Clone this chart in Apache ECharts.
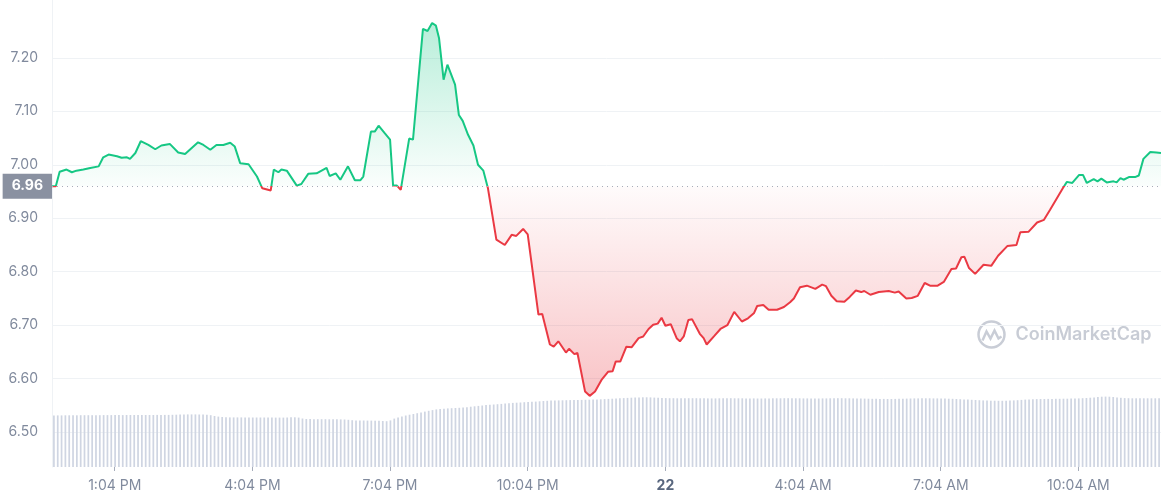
<!DOCTYPE html>
<html><head><meta charset="utf-8">
<script src="https://cdn.jsdelivr.net/npm/echarts@6/dist/echarts.min.js"></script>
<style>html,body{margin:0;padding:0;background:#fff}#c{width:1161px;height:500px}</style>
</head><body><div id="c"></div>
<script>
// minutes since 11:42 AM (day 21)
const times = [0,5,10,19,26,32,41,50,61,67,74,85,91,98,102,109,116,126,135,143,154,165,174,191,198,207,215,224,233,239,246,257,268,275,286,290,296,300,307,320,326,335,346,359,363,371,377,387,396,403,407,417,422,427,435,442,446,451,456,467,472,485,491,497,502,506,512,517,527,532,537,544,551,557,564,570,581,592,601,607,616,622,636,641,651,656,662,672,676,683,687,697,703,710,719,727,733,737,743,751,758,767,773,780,786,792,797,802,809,817,821,826,832,837,847,852,856,866,874,883,892,902,910,918,922,930,937,948,957,965,970,978,987,998,1007,1012,1019,1026,1036,1043,1051,1058,1062,1070,1081,1094,1102,1107,1117,1124,1132,1141,1148,1158,1166,1176,1182,1189,1193,1199,1207,1218,1228,1237,1249,1261,1266,1277,1288,1297,1305,1322,1327,1334,1343,1348,1353,1362,1367,1372,1379,1388,1392,1397,1401,1408,1416,1421,1427,1436,1444,1450];
const prices = [6.960,6.960,6.987,6.991,6.986,6.989,6.991,6.994,6.997,7.014,
7.019,7.016,7.013,7.014,7.011,7.022,7.044,7.037,7.029,7.036,
7.039,7.023,7.020,7.042,7.037,7.028,7.037,7.037,7.041,7.034,
7.003,7.001,6.978,6.956,6.952,6.991,6.986,6.991,6.989,6.961,
6.964,6.983,6.984,6.994,6.979,6.984,6.972,6.997,6.971,6.971,
6.978,7.062,7.062,7.073,7.059,7.047,6.961,6.961,6.953,7.049,
7.047,7.254,7.250,7.265,7.260,7.237,7.159,7.187,7.150,7.093,
7.082,7.056,7.036,7.000,6.989,6.956,6.860,6.850,6.869,6.867,
6.880,6.870,6.720,6.721,6.664,6.660,6.670,6.649,6.656,6.646,
6.648,6.576,6.568,6.576,6.599,6.613,6.614,6.632,6.632,6.660,
6.659,6.676,6.679,6.693,6.701,6.703,6.714,6.699,6.702,6.675,
6.670,6.679,6.710,6.711,6.684,6.676,6.664,6.680,6.693,6.700,
6.725,6.707,6.713,6.723,6.736,6.738,6.729,6.729,6.734,6.743,
6.750,6.771,6.774,6.768,6.776,6.773,6.755,6.745,6.744,6.753,
6.765,6.762,6.764,6.757,6.762,6.764,6.761,6.763,6.750,6.751,
6.755,6.779,6.774,6.774,6.781,6.805,6.806,6.827,6.828,6.807,
6.796,6.813,6.811,6.830,6.848,6.850,6.874,6.875,6.892,6.897,
6.916,6.957,6.968,6.966,6.981,6.981,6.966,6.973,6.969,6.974,
6.967,6.969,6.967,6.975,6.972,6.977,6.977,6.980,7.011,7.024,
7.023,7.022];
const baseline = 6.96;
const volumes = [51.4,51.6,51.6,51.7,51.7,51.7,51.7,51.8,51.8,51.8,
51.8,51.8,51.8,51.9,51.9,51.9,51.9,51.9,51.9,52.0,
52.0,52.0,52.0,52.0,52.0,52.0,52.0,52.1,52.1,52.1,
52.1,52.2,52.3,52.4,52.6,52.6,52.6,52.6,52.5,52.4,
52.2,51.8,51.0,50.4,50.0,49.8,49.6,49.6,49.6,49.6,
49.6,49.6,49.5,49.5,49.5,49.5,49.5,49.5,49.4,49.4,
49.4,49.5,49.7,49.7,49.4,48.5,48.0,47.9,47.8,47.8,
47.8,47.8,47.7,47.7,47.7,47.6,47.5,47.2,46.8,46.6,
46.5,46.5,46.4,46.4,46.3,46.2,46.0,45.8,46.6,48.4,
49.6,50.6,51.5,52.3,53.0,53.8,54.6,55.4,56.2,56.9,
57.6,58.0,58.3,58.6,58.8,59.0,59.2,59.5,59.8,60.3,
60.7,61.1,61.5,61.9,62.2,62.5,62.8,63.1,63.5,63.8,
64.1,64.3,64.5,64.8,65.0,65.2,65.4,65.7,66.0,66.2,
66.4,66.5,66.6,66.7,66.8,66.9,67.0,67.0,67.1,67.2,
67.3,67.4,67.5,67.7,67.9,68.1,68.3,68.5,68.7,68.9,
69.1,69.3,69.5,69.6,69.7,69.7,69.6,69.4,69.2,69.0,
68.9,68.8,68.8,68.7,68.7,68.7,68.8,68.8,68.8,68.7,
68.7,68.6,68.6,68.6,68.7,68.7,68.8,68.8,68.7,68.7,
68.7,68.6,68.6,68.6,68.5,68.5,68.6,68.6,68.7,68.7,
68.7,68.8,68.8,68.8,68.7,68.7,68.6,68.6,68.5,68.5,
68.5,68.6,68.6,68.7,68.7,68.8,68.8,68.7,68.7,68.6,
68.6,68.5,68.4,68.3,68.2,68.2,68.1,68.1,68.0,68.0,
68.1,68.2,68.3,68.4,68.5,68.6,68.6,68.7,68.7,68.7,
68.6,68.6,68.5,68.4,68.3,68.2,68.0,67.8,67.6,67.4,
67.2,67.0,66.8,66.6,66.4,66.3,66.3,66.2,66.2,66.3,
66.4,66.6,66.8,67.1,67.4,67.6,67.8,67.9,68.0,68.0,
68.1,68.1,68.2,68.2,68.3,68.3,68.4,68.5,68.6,68.8,
69.0,69.3,69.6,70.0,70.3,70.4,70.3,70.0,69.6,69.2,
68.9,68.8,68.7,68.7,68.7,68.7,68.7,68.7,68.7,68.7];
const xTickValues = [82,262,442,622,802,982,1162,1342];
const xTickLabels = ['1:04 PM','4:04 PM','7:04 PM','10:04 PM','22','4:04 AM','7:04 AM','10:04 AM'];
const yTickValues = [6.5,6.6,6.7,6.8,6.9,7.0,7.1,7.2];

const GREEN = '#16c784', RED = '#ea3943';
const chart = echarts.init(document.getElementById('c'), null, {renderer:'canvas'});
const lineData = times.map((t,i)=>[t, prices[i]]);
const slots = volumes.map((_,i)=>String(i));
const FONT = 'Inter, "Noto Sans", sans-serif';

const option = {
  animation:false,
  backgroundColor:'#ffffff',
  grid:{left:52,right:0,top:0,bottom:33,containLabel:false},
  xAxis:[{
    type:'value', min:0, max:1450,
    axisLine:{show:false}, splitLine:{show:false},
    axisTick:{show:true, customValues:xTickValues, length:4, lineStyle:{color:'#a6adbb'}},
    axisLabel:{customValues:xTickValues, margin:12, color:'#808a9d', fontSize:14, fontFamily:FONT,
      formatter:(v)=>{const s=xTickLabels[xTickValues.indexOf(v)]; return s==='22'?'{b|22}':s;},
      rich:{b:{fontWeight:'bold', color:'#58667e', fontSize:14, fontFamily:FONT}}}
  },{
    type:'category', data:slots, show:false, boundaryGap:true
  }],
  yAxis:[{
    type:'value', min:6.435, max:7.308, position:'left',
    axisLine:{show:true, lineStyle:{color:'#eff2f5'}},
    axisTick:{show:false, customValues:yTickValues},
    axisLabel:{customValues:yTickValues, formatter:v=>v.toFixed(2), color:'#808a9d', fontSize:14, margin:14, fontFamily:FONT},
    splitLine:{show:true, lineStyle:{color:'#eff2f5'}}
  },{
    type:'value', min:0, max:467, show:false, splitLine:{show:false}
  }],
  visualMap:{type:'piecewise', show:false, seriesIndex:1, dimension:1,
    pieces:[{gt:0, lte:baseline, color:RED},{gt:baseline, lte:100, color:GREEN}]},
  graphic:[{
    type:'group', left:976, top:319, silent:true, z:0,
    children:[
      {type:'circle', shape:{cx:15,cy:15,r:13}, style:{fill:'none', stroke:'#c9cdd6', lineWidth:2.5}},
      {type:'polyline', shape:{points:[[6,21],[10,12],[14,19],[18,11],[22,19],[25,17]]}, style:{stroke:'#c9cdd6', lineWidth:2.5, fill:'none'}},
      {type:'text', x:39, y:15, style:{text:'CoinMarketCap', fill:'#c8ccd5', font:'600 18px '+FONT, verticalAlign:'middle'}}
    ]
  }],
  series:[{
    type:'bar', xAxisIndex:1, yAxisIndex:1, data:volumes, barWidth:'45%',
    itemStyle:{color:'#cfd5e2'}, silent:true, z:1
  },{
    type:'line', xAxisIndex:0, yAxisIndex:0, data:lineData, showSymbol:false, symbol:'none',
    lineStyle:{width:2}, areaStyle:{origin:baseline, opacity:1, color:'rgba(0,0,0,0)'}, z:3,
    markLine:{silent:true, symbol:'none', animation:false,
      data:[{yAxis:baseline}],
      lineStyle:{type:[1,4], color:'#a7adb9', width:1},
      label:{show:true, position:'start', formatter:'6.96', color:'#fff', backgroundColor:'#8a91a1',
        padding:[6,9,5,9], fontSize:14, fontWeight:'bold', fontFamily:FONT, distance:0}}
  }]
};
chart.setOption(option);

const py = v => chart.convertToPixel({yAxisIndex:0}, v);
const yTop = py(Math.max(...prices)), yBase = py(baseline), yBot = py(Math.min(...prices));
const off = (yBase - yTop)/(yBot - yTop);
chart.setOption({series:[{},{areaStyle:{color:new echarts.graphic.LinearGradient(0, yTop, 0, yBot, [
  {offset:0, color:'rgba(22,199,132,0.30)'},
  {offset:off, color:'rgba(22,199,132,0.02)'},
  {offset:off, color:'rgba(234,57,67,0.02)'},
  {offset:1, color:'rgba(234,57,67,0.30)'}
], true)}}]});
</script></body></html>
